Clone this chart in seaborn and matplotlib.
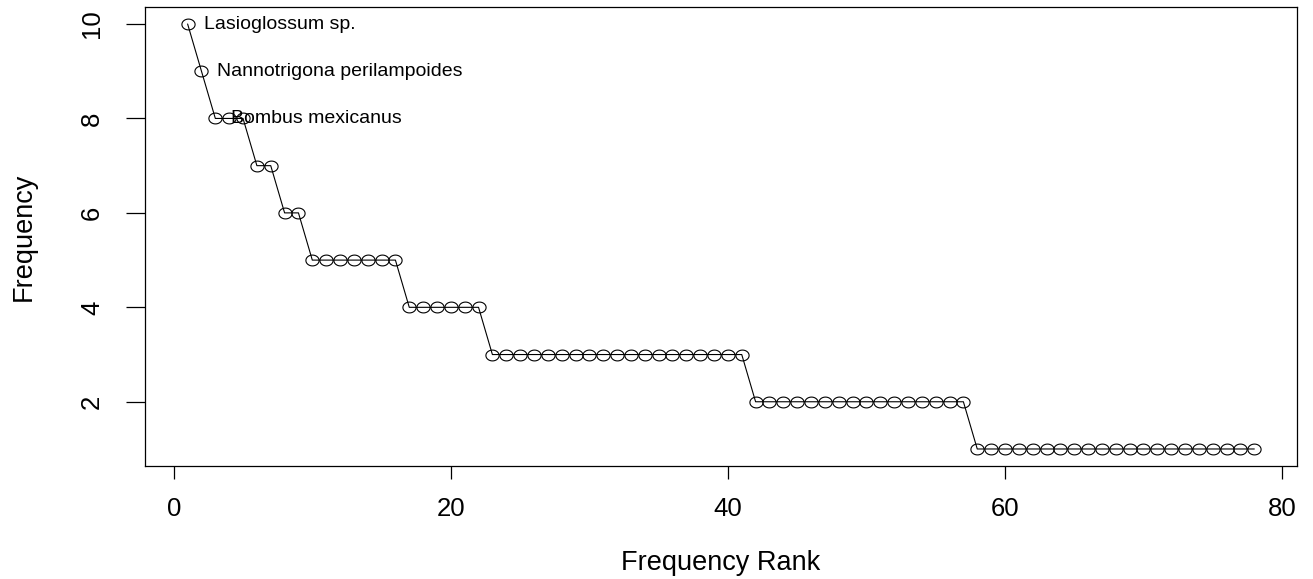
import numpy as np
import matplotlib
matplotlib.use("Agg")
import matplotlib.pyplot as plt
from matplotlib.path import Path
import seaborn as sns
import pandas as pd

# Data
freqs = [10, 9, 8, 8, 8, 7, 7, 6, 6,
         5, 5, 5, 5, 5, 5, 5,
         4, 4, 4, 4, 4, 4,
         3, 3, 3, 3, 3, 3, 3, 3, 3, 3, 3, 3, 3, 3, 3, 3, 3, 3, 3,
         2, 2, 2, 2, 2, 2, 2, 2, 2, 2, 2, 2, 2, 2, 2, 2,
         1, 1, 1, 1, 1, 1, 1, 1, 1, 1, 1, 1, 1, 1, 1, 1, 1, 1, 1, 1, 1]
ranks = list(range(1, len(freqs) + 1))
label_names = ["Lasioglossum sp.", "Nannotrigona perilampoides", "Bombus mexicanus"]
label_ranks = [1, 2, 3]
x_ticks = [0, 20, 40, 60, 80]
y_ticks = [2, 4, 6, 8, 10]

df = pd.DataFrame({"rank": ranks, "freq": freqs})

sns.set_style("white")
plt.rcParams["font.family"] = ["Liberation Sans", "DejaVu Sans"]
plt.rcParams["text.color"] = "black"
plt.rcParams["axes.labelcolor"] = "black"
plt.rcParams["xtick.color"] = "black"
plt.rcParams["ytick.color"] = "black"

fig = plt.figure(figsize=(13.13, 5.79), dpi=100)
ax = fig.add_axes([0.1104, 0.1952, 0.9878 - 0.1104, 0.9879 - 0.1952])

# slightly wide ellipse marker (reference is horizontally stretched)
t = np.linspace(0, 2 * np.pi, 60)
ell = Path(np.column_stack([np.cos(t), 0.82 * np.sin(t)]), closed=True)

sns.lineplot(data=df, x="rank", y="freq", ax=ax, color="black", linewidth=0.8,
             marker=ell, markersize=9.5, markerfacecolor="none",
             markeredgecolor="black", markeredgewidth=0.8)

for name, r in zip(label_names, label_ranks):
    ax.annotate(name, (r, freqs[r - 1]), xytext=(11.5, 0), textcoords="offset points",
                ha="left", va="center", fontsize=14, color="black")

ax.set_xlim(-2.08, 81.08)
ax.set_ylim(0.64, 10.36)
ax.set_xticks(x_ticks)
ax.set_yticks(y_ticks)
ax.set_xticklabels([str(v) for v in x_ticks])
ax.set_yticklabels([str(v) for v in y_ticks], rotation=90, va="center")

for s in ax.spines.values():
    s.set_visible(True)
    s.set_color("black")
    s.set_linewidth(0.9)

ax.tick_params(axis="x", direction="out", length=9.5, width=0.9, pad=13,
               labelsize=18.5, colors="black", bottom=True)
ax.tick_params(axis="y", direction="out", length=13.5, width=0.9, pad=16,
               labelsize=18.5, colors="black", left=True)

ax.set_xlabel("Frequency Rank", fontsize=19.5, labelpad=21, color="black")
ax.set_ylabel("Frequency", fontsize=19.5, labelpad=31, color="black")
ax.grid(False)

fig.savefig("out.png", dpi=100)
